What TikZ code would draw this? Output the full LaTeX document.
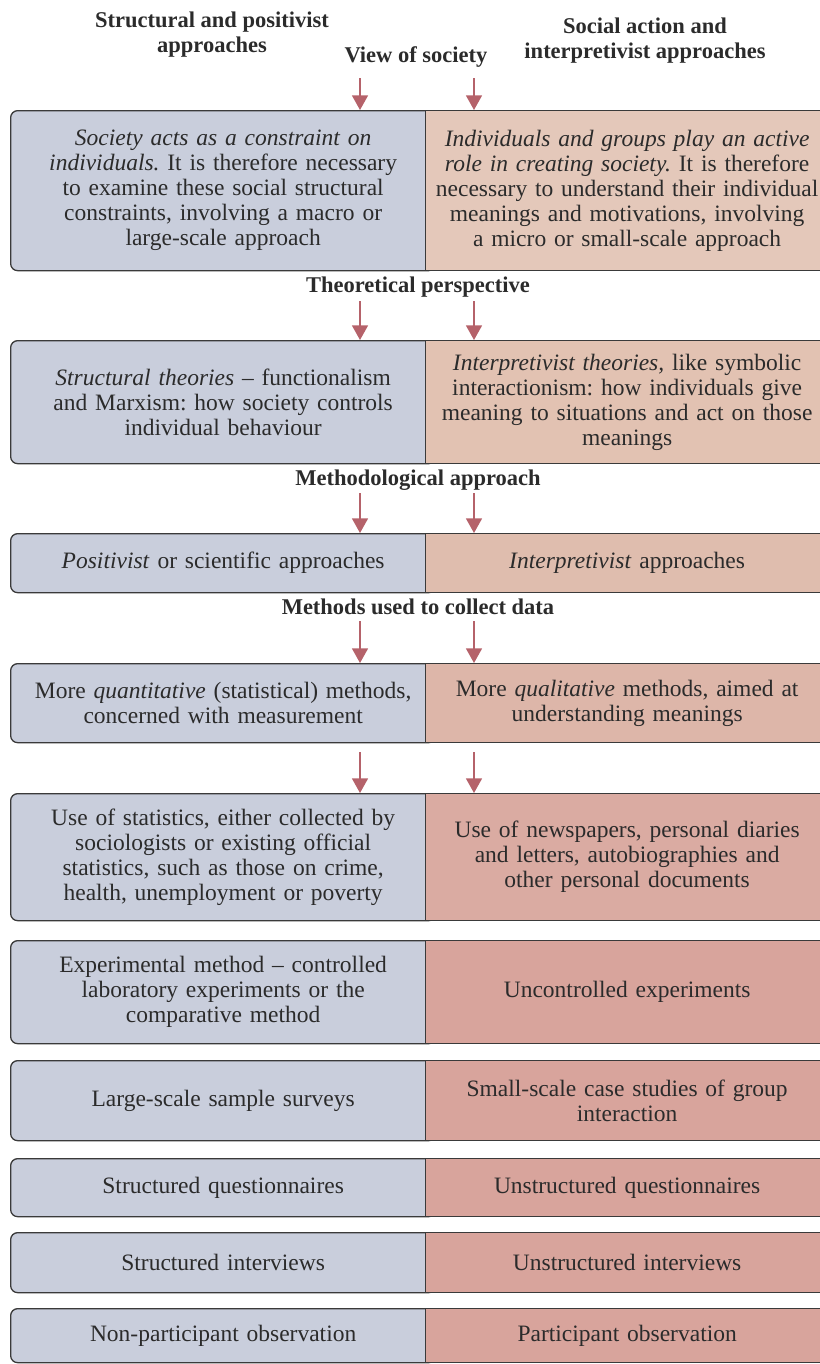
\documentclass[tikz,border=0pt]{standalone}
\usepackage{fontspec}
\setmainfont{Liberation Serif}
\usetikzlibrary{arrows.meta}
\frenchspacing

\newlength{\du}
\setlength{\du}{0.75pt}

\definecolor{textcolor}{HTML}{2B2B2B}
\definecolor{boxline}{HTML}{3A3A3A}
\definecolor{leftcolor}{HTML}{C9CEDC}
\definecolor{arrowcolor}{HTML}{B5626A}
\definecolor{rightA}{HTML}{E4C8BA}
\definecolor{rightB}{HTML}{E2C2B2}
\definecolor{rightC}{HTML}{DFBDAE}
\definecolor{rightD}{HTML}{DDB6A9}
\definecolor{rightE}{HTML}{DAABA2}
\definecolor{rightF}{HTML}{D8A49C}

\tikzset{
  leftbox/.style={draw=boxline, line width=1.3\du, rounded corners=7\du, fill=leftcolor,
    anchor=north west, text width=415\du, inner xsep=5\du, inner ysep=0pt, align=center,
    text=textcolor, font=\fontsize{23.5\du}{25\du}\selectfont},
  rightbox/.style={draw=boxline, line width=1.3\du, fill=#1,
    anchor=north west, text width=399\du, inner xsep=2\du, inner ysep=0pt, align=center,
    text=textcolor, font=\fontsize{23.5\du}{25\du}\selectfont},
  headtext/.style={align=center, text=textcolor, inner sep=0pt,
    font=\bfseries\fontsize{22.5\du}{25\du}\selectfont},
  downarrow/.style={draw=arrowcolor, line width=1.6\du,
    -{Triangle[width=12pt,length=11pt,fill=arrowcolor]}},
}

\begin{document}
\begin{tikzpicture}
\useasboundingbox (0,0) rectangle (820\du,-1364\du);
\clip (0,0) rectangle (820\du,-1364\du);
\pgftransformyscale{-1.000000}

% headings
\node[headtext] (hleft) at (212\du,35\du) {Structural and positivist\\approaches};
\node[headtext] (hright) at (645\du,41\du) {Social action and\\interpretivist approaches};
\node[headtext] (view) at (416\du,57\du) {View of society};

% view of society
\node[leftbox, minimum height=160\du] (v1l) at (10\du,110\du)
  {\textit{Society acts as a constraint on}\\\textit{individuals.} It is therefore necessary\\to examine these social structural\\constraints, involving a macro or\\large-scale approach};
\node[rightbox=rightA, minimum height=160\du] (v1r) at (425\du,110\du)
  {\textit{Individuals and groups play an active}\\\textit{role in creating society.} It is therefore\\necessary to understand their individual\\meanings and motivations, involving\\a micro or small-scale approach};
\coordinate (a1) at (360\du,78\du);
\coordinate (b1) at (474\du,78\du);
\draw[downarrow] (a1) -- (a1 |- v1l.north);
\draw[downarrow] (b1) -- (b1 |- v1r.north);

% theoretical perspective
\node[headtext] (theory) at (418\du,287\du) {Theoretical perspective};
\node[leftbox, minimum height=123\du] (v2l) at (10\du,340\du)
  {\textit{Structural theories} -- functionalism\\and Marxism: how society controls\\individual behaviour};
\node[rightbox=rightB, minimum height=123\du] (v2r) at (425\du,340\du)
  {\textit{Interpretivist theories,} like symbolic\\interactionism: how individuals give\\meaning to situations and act on those\\meanings};
\coordinate (a2) at (360\du,301\du);
\coordinate (b2) at (474\du,301\du);
\draw[downarrow] (a2) -- (a2 |- v2l.north);
\draw[downarrow] (b2) -- (b2 |- v2r.north);

% methodological approach
\node[headtext] (method) at (418\du,480\du) {Methodological approach};
\node[leftbox, minimum height=59\du] (v3l) at (10\du,533\du)
  {\textit{Positivist} or scientific approaches};
\node[rightbox=rightC, minimum height=59\du] (v3r) at (425\du,533\du)
  {\textit{Interpretivist} approaches};
\coordinate (a3) at (360\du,493\du);
\coordinate (b3) at (474\du,493\du);
\draw[downarrow] (a3) -- (a3 |- v3l.north);
\draw[downarrow] (b3) -- (b3 |- v3r.north);

% methods used to collect data
\node[headtext] (collect) at (418\du,607\du) {Methods used to collect data};
\node[leftbox, minimum height=79\du] (v4l) at (10\du,663\du)
  {More \textit{quantitative} (statistical) methods,\\concerned with measurement};
\node[rightbox=rightD, minimum height=79\du] (v4r) at (425\du,663\du)
  {More \textit{qualitative} methods, aimed at\\understanding meanings};
\coordinate (a4) at (360\du,621\du);
\coordinate (b4) at (474\du,621\du);
\draw[downarrow] (a4) -- (a4 |- v4l.north);
\draw[downarrow] (b4) -- (b4 |- v4r.north);

\node[leftbox, minimum height=127\du] (v5l) at (10\du,793\du)
  {Use of statistics, either collected by\\sociologists or existing official\\statistics, such as those on crime,\\health, unemployment or poverty};
\node[rightbox=rightE, minimum height=127\du] (v5r) at (425\du,793\du)
  {Use of newspapers, personal diaries\\and letters, autobiographies and\\other personal documents};
\coordinate (a5) at (360\du,752\du);
\coordinate (b5) at (474\du,752\du);
\draw[downarrow] (a5) -- (a5 |- v5l.north);
\draw[downarrow] (b5) -- (b5 |- v5r.north);

% remaining methods
\node[leftbox, minimum height=103\du] (v6l) at (10\du,940\du)
  {Experimental method -- controlled\\laboratory experiments or the\\comparative method};
\node[rightbox=rightF, minimum height=103\du] (v6r) at (425\du,940\du)
  {Uncontrolled experiments};

\node[leftbox, minimum height=80\du] (v7l) at (10\du,1060\du)
  {Large-scale sample surveys};
\node[rightbox=rightF, minimum height=80\du] (v7r) at (425\du,1060\du)
  {Small-scale case studies of group\\interaction};

\node[leftbox, minimum height=58\du] (v8l) at (10\du,1158\du)
  {Structured questionnaires};
\node[rightbox=rightF, minimum height=58\du] (v8r) at (425\du,1158\du)
  {Unstructured questionnaires};

\node[leftbox, minimum height=60\du] (v9l) at (10\du,1232\du)
  {Structured interviews};
\node[rightbox=rightF, minimum height=60\du] (v9r) at (425\du,1232\du)
  {Unstructured interviews};

\node[leftbox, minimum height=54\du] (v10l) at (10\du,1308\du)
  {Non-participant observation};
\node[rightbox=rightF, minimum height=54\du] (v10r) at (425\du,1308\du)
  {Participant observation};
\end{tikzpicture}
\end{document}
